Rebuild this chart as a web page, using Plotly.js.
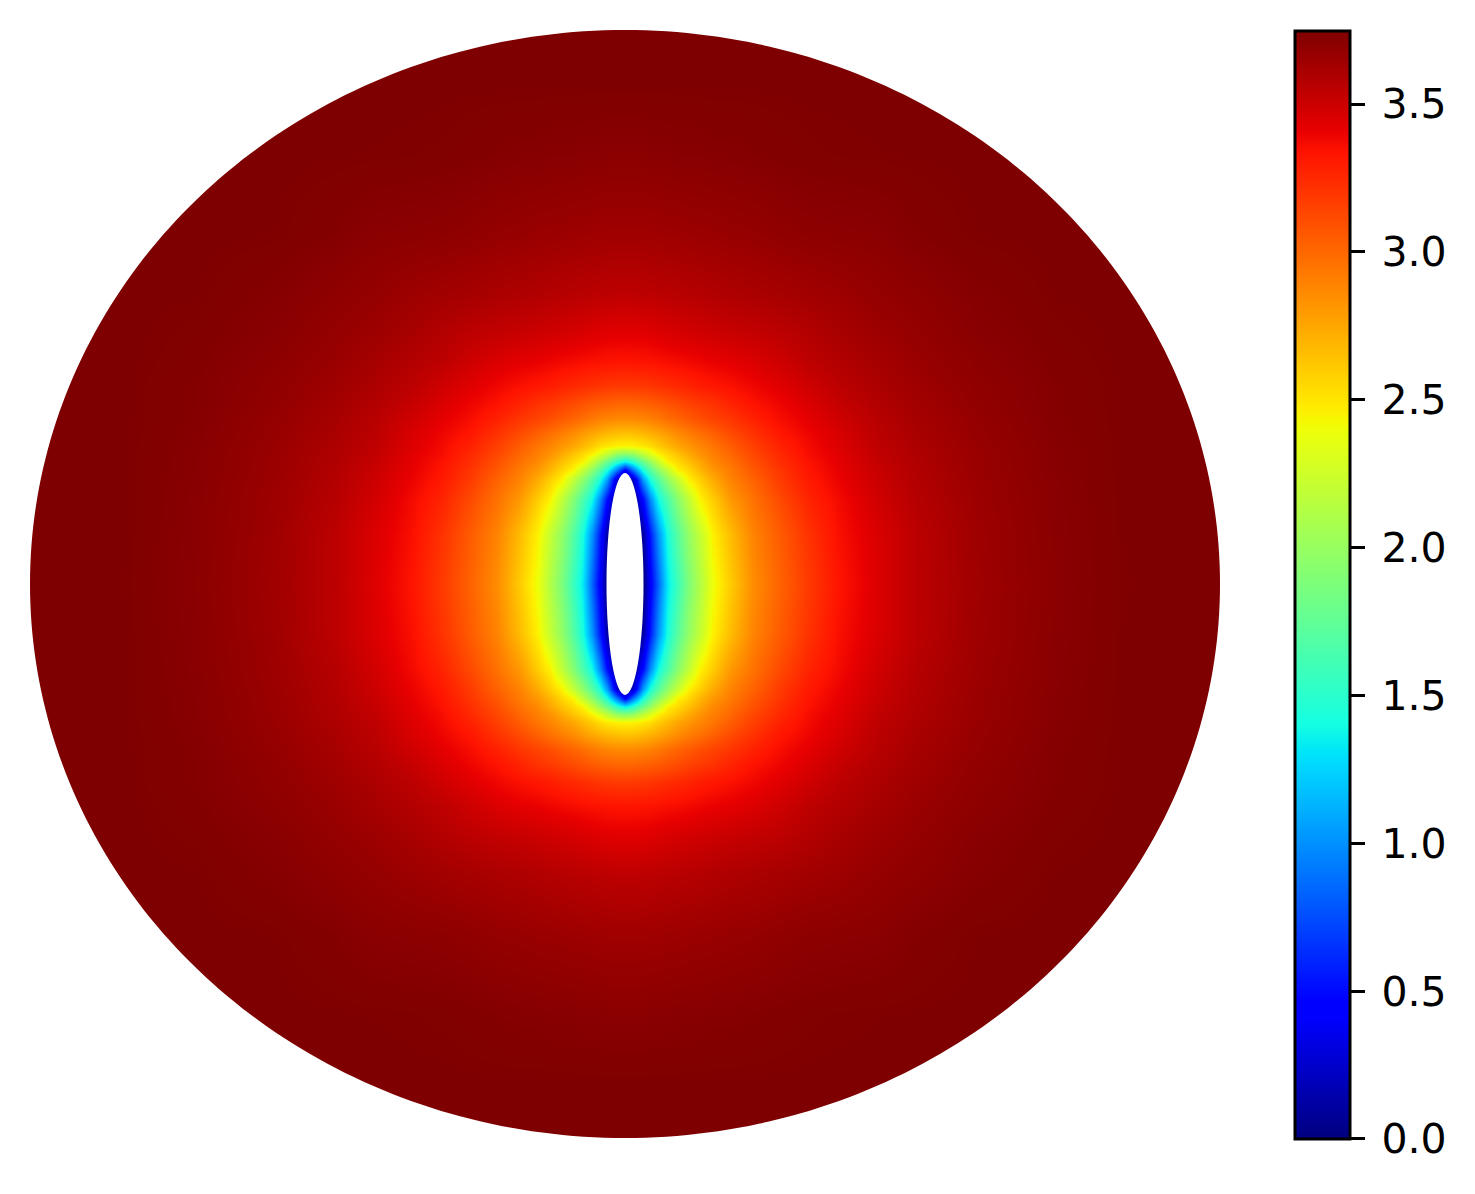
<!DOCTYPE html>
<html>
<head>
<meta charset="utf-8">
<script src="https://cdn.plot.ly/plotly-3.0.1.min.js"></script>
<style>
	html, body {margin: 0; padding: 0; background: white;}
</style>
</head>
<body>
<div id="plot" style="width:1475px;height:1194px"></div>
<script>
//Values, one quadrant only (the field looks mirror symmetric about both axes).
let xNodes = [0, 8, 18, 25, 33, 42, 52, 63, 75, 87, 105, 128, 155, 183, 213, 250, 290, 350, 430, 500, 620]
let yNodes = [0, 50, 85, 105, 114, 122, 130, 138, 150, 165, 180, 198, 222, 252, 290, 350, 430, 500, 620]

let fieldQuadrant = [
	[0, 0, 0, 0.41, 0.83, 1.31, 1.58, 1.87, 2.12, 2.38, 2.60, 2.85, 3.02, 3.18, 3.33, 3.44, 3.55, 3.64, 3.71, 3.745, 3.75],
	[0, 0, 0.12, 0.55, 1.01, 1.41, 1.70, 1.97, 2.21, 2.45, 2.66, 2.89, 3.05, 3.21, 3.35, 3.45, 3.55, 3.645, 3.713, 3.746, 3.75],
	[0, 0, 0.50, 0.97, 1.39, 1.64, 1.92, 2.18, 2.45, 2.59, 2.80, 2.96, 3.12, 3.27, 3.37, 3.48, 3.57, 3.65, 3.716, 3.746, 3.75],
	[0, 0.23, 1.05, 1.44, 1.70, 1.96, 2.20, 2.45, 2.59, 2.73, 2.89, 3.02, 3.18, 3.31, 3.40, 3.50, 3.58, 3.655, 3.718, 3.746, 3.75],
	[0.41, 0.89, 1.43, 1.70, 1.95, 2.18, 2.44, 2.55, 2.69, 2.80, 2.92, 3.06, 3.20, 3.33, 3.41, 3.51, 3.58, 3.66, 3.72, 3.747, 3.75],
	[1.31, 1.48, 1.78, 1.98, 2.21, 2.44, 2.54, 2.64, 2.75, 2.86, 2.96, 3.09, 3.23, 3.34, 3.42, 3.52, 3.59, 3.66, 3.72, 3.747, 3.75],
	[1.93, 1.98, 2.18, 2.32, 2.45, 2.55, 2.63, 2.73, 2.83, 2.90, 3.00, 3.13, 3.25, 3.36, 3.43, 3.53, 3.59, 3.66, 3.72, 3.747, 3.75],
	[2.44, 2.45, 2.49, 2.53, 2.60, 2.67, 2.75, 2.81, 2.88, 2.94, 3.04, 3.16, 3.28, 3.37, 3.444, 3.54, 3.60, 3.665, 3.723, 3.747, 3.75],
	[2.63, 2.64, 2.67, 2.70, 2.74, 2.79, 2.85, 2.905, 2.96, 3.02, 3.11, 3.21, 3.32, 3.39, 3.46, 3.55, 3.61, 3.67, 3.725, 3.747, 3.75],
	[2.86, 2.865, 2.88, 2.90, 2.93, 2.97, 3.01, 3.05, 3.10, 3.14, 3.195, 3.28, 3.36, 3.42, 3.49, 3.56, 3.62, 3.675, 3.728, 3.747, 3.75],
	[3.00, 3.005, 3.02, 3.03, 3.05, 3.08, 3.11, 3.145, 3.18, 3.21, 3.27, 3.337, 3.39, 3.45, 3.52, 3.58, 3.63, 3.685, 3.73, 3.747, 3.75],
	[3.18, 3.183, 3.19, 3.20, 3.215, 3.23, 3.25, 3.27, 3.30, 3.32, 3.345, 3.385, 3.435, 3.49, 3.55, 3.60, 3.645, 3.69, 3.73, 3.747, 3.75],
	[3.33, 3.332, 3.335, 3.34, 3.345, 3.355, 3.365, 3.375, 3.39, 3.405, 3.42, 3.45, 3.495, 3.545, 3.58, 3.62, 3.66, 3.70, 3.735, 3.748, 3.75],
	[3.43, 3.43, 3.435, 3.44, 3.45, 3.46, 3.47, 3.48, 3.49, 3.50, 3.515, 3.53, 3.55, 3.58, 3.615, 3.65, 3.675, 3.715, 3.74, 3.748, 3.75],
	[3.545, 3.545, 3.55, 3.55, 3.555, 3.56, 3.565, 3.57, 3.575, 3.585, 3.595, 3.605, 3.62, 3.635, 3.65, 3.675, 3.695, 3.725, 3.746, 3.748, 3.75],
	[3.64, 3.64, 3.64, 3.645, 3.645, 3.65, 3.65, 3.655, 3.66, 3.66, 3.67, 3.675, 3.69, 3.70, 3.705, 3.71, 3.73, 3.745, 3.748, 3.75, 3.75],
	[3.71, 3.71, 3.71, 3.715, 3.715, 3.715, 3.72, 3.72, 3.72, 3.725, 3.725, 3.73, 3.735, 3.74, 3.743, 3.745, 3.746, 3.748, 3.75, 3.75, 3.75],
	[3.746, 3.746, 3.746, 3.746, 3.746, 3.746, 3.746, 3.746, 3.747, 3.747, 3.747, 3.747, 3.747, 3.748, 3.748, 3.748, 3.749, 3.75, 3.75, 3.75, 3.75],
	[3.75, 3.75, 3.75, 3.75, 3.75, 3.75, 3.75, 3.75, 3.75, 3.75, 3.75, 3.75, 3.75, 3.75, 3.75, 3.75, 3.75, 3.75, 3.75, 3.75, 3.75]
]

let colorbarTickStart = 0
let colorbarTickStep = 0.5
let valueMax = 3.747

//Semi-axes of the disc and of the hole, in axis units.
let discRadius = [595, 554]
let holeRadius = [18.5, 111]

//matplotlib's jet.
let jetScale = [
	[0, "rgb(0,0,127)"],
	[0.11, "rgb(0,0,255)"],
	[0.125, "rgb(0,0,255)"],
	[0.34, "rgb(0,219,255)"],
	[0.35, "rgb(0,230,247)"],
	[0.375, "rgb(21,255,226)"],
	[0.64, "rgb(238,255,8)"],
	[0.65, "rgb(247,246,0)"],
	[0.66, "rgb(255,236,0)"],
	[0.89, "rgb(255,19,0)"],
	[0.91, "rgb(232,0,0)"],
	[1, "rgb(127,0,0)"]
]

//Mirrors a quadrant's values around its first entry.
function mirror(list, flip) {
	let left = list.slice(1).reverse().map((v) => {return flip ? -v : v})
	return left.concat(list)
}

let xFull = mirror(xNodes, true)
let yFull = mirror(yNodes, true)
let zFull = mirror(fieldQuadrant.map((row) => {return mirror(row, false)}), false)

//White everywhere but the disc.
function discMaskPath() {
	let rx = discRadius[0], ry = discRadius[1]
	let path = `M${-rx},${-ry}L${rx},${-ry}L${rx},${ry}L${-rx},${ry}Z`
	for (let i = 0; i < 360; i++) {
		let angle = i * Math.PI / 180
		path += (i === 0 ? "M" : "L") + (rx * Math.cos(angle)) + "," + (ry * Math.sin(angle))
	}
	return path + "Z"
}

let data = [{
	type: "heatmap",
	x: xFull,
	y: yFull,
	z: zFull,
	zmin: 0,
	zmax: valueMax,
	zsmooth: "best",
	colorscale: jetScale,
	hoverinfo: "skip",
	colorbar: {
		x: 1.0631,
		xanchor: "left",
		xpad: 0,
		y: 0.4991,
		yanchor: "middle",
		ypad: 0,
		len: 1,
		lenmode: "fraction",
		thickness: 55,
		outlinewidth: 3,
		outlinecolor: "black",
		tickmode: "linear",
		tick0: colorbarTickStart,
		dtick: colorbarTickStep,
		tickformat: ".1f",
		tickprefix: "\u2009", //Pushes the labels out to where matplotlib has them.
		ticks: "outside",
		ticklen: 14,
		tickwidth: 3,
		tickcolor: "black",
		tickfont: {family: "DejaVu Sans", size: 41, color: "black"}
	}
}]

let layout = {
	width: 1475,
	height: 1194,
	margin: {l: 30, r: 255, t: 30, b: 56, pad: 0},
	paper_bgcolor: "white",
	plot_bgcolor: "white",
	xaxis: {visible: false, range: [-discRadius[0], discRadius[0]]},
	yaxis: {visible: false, range: [-discRadius[1], discRadius[1]]},
	shapes: [
		{
			type: "path",
			path: discMaskPath(),
			fillrule: "evenodd",
			fillcolor: "white",
			line: {width: 0},
			layer: "above"
		},
		{
			type: "circle",
			x0: -holeRadius[0],
			x1: holeRadius[0],
			y0: -holeRadius[1],
			y1: holeRadius[1],
			fillcolor: "white",
			line: {width: 0},
			layer: "above"
		}
	]
}

Plotly.newPlot("plot", data, layout, {displayModeBar: false})
</script>
</body>
</html>
